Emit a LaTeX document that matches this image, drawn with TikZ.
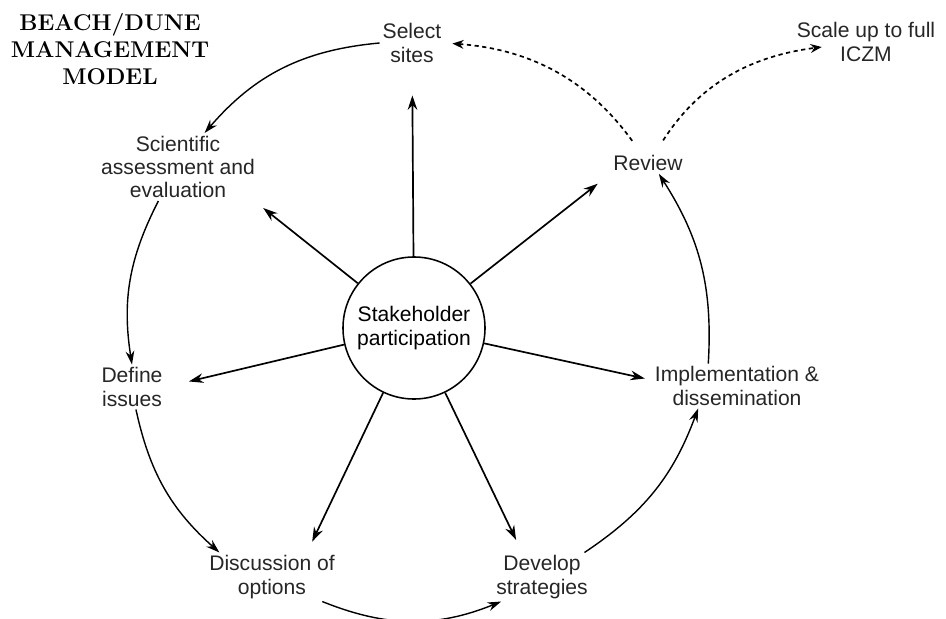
\documentclass[tikz,border=0pt]{standalone}
\usepackage{fontspec}
\newfontfamily\lblfont{Liberation Sans}
\usetikzlibrary{arrows.meta,calc,positioning}

\begin{document}
\begin{tikzpicture}[x=0.025cm, y=-0.025cm,
	lbl/.style = {align=center, inner sep=2pt, text=black!85,
		font=\lblfont\fontsize{15}{16.5}\selectfont},
	hubnode/.style = {circle, draw, line width=1.1pt, minimum size=3.55cm,
		inner sep=0pt, align=center, font=\lblfont\fontsize{15}{16.5}\selectfont},
	spoke/.style = {-{Stealth[length=3.6mm,width=2.4mm]}, line width=1.2pt},
	cyc/.style = {-{Stealth[length=3.4mm,width=2.2mm]}, line width=1pt},
	dashlink/.style = {-{Stealth[length=2.8mm,width=2.2mm]}, line width=1.2pt,
		dash pattern=on 3pt off 2.5pt}
	]
	\useasboundingbox (0,0) rectangle (946,618);
	\node[align=center, font=\fontsize{16.2}{19}\selectfont\bfseries] (title) at (110,49)
		{BEACH/DUNE\\MANAGEMENT\\MODEL};
	
	\node[hubnode] (hub) at (414,328) {Stakeholder\\participation};
	\begin{scope}[nodes=lbl]
		\node (sel) at (412,43)  {Select\\sites};
		\node (scale) at (866,42)  {Scale up to full\\ICZM};
		\node (rev) at (648,163)  {Review};
		\node (sci) at (178,167)  {Scientific\\assessment and\\evaluation};
		\node (def) at (132,387)  {Define\\issues};
		\node (imp) at (737,386)  {Implementation \&\\dissemination};
		\node (dis) at (272,577)  {Discussion of\\options};
		\node (dev) at (542,577)  {Develop\\strategies};
	\end{scope}
	
	% spokes out of the hub
	\draw[spoke, shorten >=7.5mm] (hub) -- (sel);
	\draw[spoke, shorten >=2.8mm] (hub) -- (sci.-24);
	\draw[spoke, shorten >=4mm] (hub) -- (rev.196);
	\draw[spoke, shorten >=6mm] (hub) -- (def.east);
	\draw[spoke, shorten >=1.8mm] (hub) -- (imp.176);
	\draw[spoke, shorten >=3mm] (hub) -- (dis.35);
	\draw[spoke, shorten >=3.5mm] (hub) -- (dev.129);
	
	% the management cycle
	\draw[cyc] (sel.west) to[bend right=22] (sci.52);
	\draw[cyc] (sci.-120) to[bend right=18] (def.north);
	\draw[cyc] (def.-80) to[bend right=18] (dis.155);
	\draw[cyc] (dis.-26) to[bend right=22] (dev.-149);
	\draw[cyc] (dev.30) to[bend right=18] (imp.-150);
	\draw[cyc] (imp.142) to[bend right=18] (rev.-45);
	
	% feedback from the review
	\draw[dashlink, shorten <=3.5mm, shorten >=2mm] (rev.125) to[bend right=25] (sel.east);
	\draw[dashlink, shorten <=3.5mm] (rev.55) to[bend left=25] ($(scale.west)+(28,5)$);
\end{tikzpicture}
\end{document}
